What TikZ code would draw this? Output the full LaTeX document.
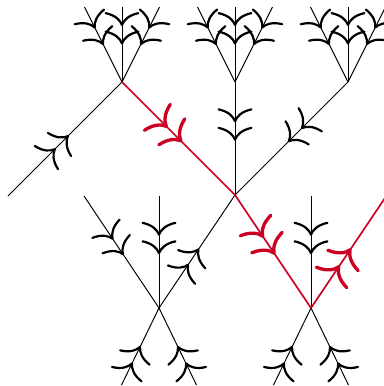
\documentclass[tikz,border=0pt]{standalone}
\usetikzlibrary{arrows.meta,decorations.markings}
\definecolor{flowred}{HTML}{CC0022}
\tikzset{
  flow/.style={line width=.55pt,>={Computer Modern Rightarrow[length=2.8mm,width=7mm,line width=1.25pt,sep=.9mm]},
    postaction={decorate},decoration={markings,mark=at position .56 with {\arrow{>>}}}},
  redflow/.style={flow,color=flowred,line width=.95pt,>={Computer Modern Rightarrow[length=3.2mm,width=8mm,line width=1.9pt,sep=.9mm]}},
}
\begin{document}
\begin{tikzpicture}[x=.02cm,y=-.02cm]
  \useasboundingbox (0,0) rectangle (384,386);
  \clip (0,0) rectangle (384,386);
  % vertices
  \coordinate (ta) at (122,82); \coordinate (tb) at (235,82); \coordinate (tc) at (348,82);
  \coordinate (mid) at (235,195);
  \coordinate (la) at (159,308); \coordinate (lb) at (311,308);
  % free ends
  \coordinate (ta1) at (84.5,7); \coordinate (ta2) at (122,7); \coordinate (ta3) at (159.5,7);
  \coordinate (tb1) at (197.5,7); \coordinate (tb2) at (235,7); \coordinate (tb3) at (272.5,7);
  \coordinate (tc1) at (310.5,7); \coordinate (tc2) at (348,7); \coordinate (tc3) at (385.5,7);
  \coordinate (in) at (8,196);
  \coordinate (la1) at (84,196); \coordinate (la2) at (159,196);
  \coordinate (la3) at (121.5,385); \coordinate (la4) at (196.5,385);
  \coordinate (lb2) at (311,196);
  \coordinate (lb3) at (273.5,385); \coordinate (lb4) at (348.5,385);
  \coordinate (out) at (387,195);

  \draw[flow] (ta1)--(ta); \draw[flow] (ta2)--(ta); \draw[flow] (ta3)--(ta);
  \draw[flow] (tb1)--(tb); \draw[flow] (tb2)--(tb); \draw[flow] (tb3)--(tb);
  \draw[flow] (tc1)--(tc); \draw[flow] (tc2)--(tc); \draw[flow] (tc3)--(tc);
  \draw[flow] (in)--(ta);
  \draw[flow] (tb)--(mid); \draw[flow] (tc)--(mid); \draw[flow] (la)--(mid);
  \draw[flow] (la1)--(la); \draw[flow] (la2)--(la); \draw[flow] (la3)--(la); \draw[flow] (la4)--(la);
  \draw[flow] (lb2)--(lb); \draw[flow] (lb3)--(lb); \draw[flow] (lb4)--(lb);
  \draw[redflow] (ta)--(mid); \draw[redflow] (mid)--(lb); \draw[redflow] (lb)--(out);
\end{tikzpicture}
\end{document}
